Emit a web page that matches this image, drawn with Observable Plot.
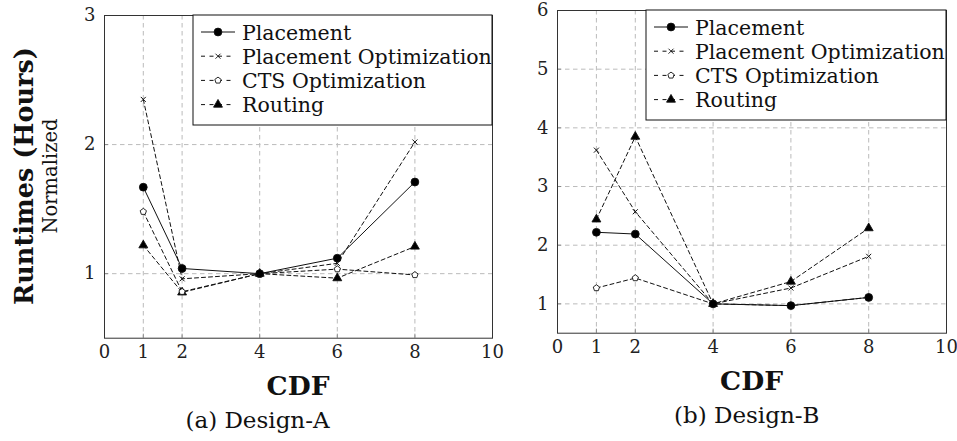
<!DOCTYPE html>
<html><head><meta charset="utf-8">
<script src="https://cdn.jsdelivr.net/npm/d3@7"></script>
<script src="https://cdn.jsdelivr.net/npm/@observablehq/plot@0.6"></script>
<style>
html,body{margin:0;padding:0;background:#fff;}
#wrap{position:relative;width:957px;height:441px;overflow:hidden;background:#fff;}
#wrap svg{position:absolute;top:0;}
#wrap svg text{font-family:"DejaVu Serif","Liberation Serif",serif;}
</style></head><body><div id="wrap"></div>
<script>
// ---- data ----
const cdf = [1, 2, 4, 6, 8];
const seriesNames = ["Placement", "Placement Optimization", "CTS Optimization", "Routing"];
const xTicks = [0, 1, 2, 4, 6, 8, 10];
const yTicksA = [1, 2, 3];
const yTicksB = [1, 2, 3, 4, 5, 6];

const designAPlacement    = [1.67, 1.04, 1.00, 1.12, 1.71];
const designAPlacementOpt = [2.35, 0.96, 1.00, 1.08, 2.02];
const designACTSOpt       = [1.48, 0.86, 1.00, 1.035, 0.99];
const designARouting      = [1.22, 0.855, 1.00, 0.965, 1.21];

const designBPlacement    = [2.22, 2.19, 1.00, 0.97, 1.11];
const designBPlacementOpt = [3.62, 2.57, 1.00, 1.27, 1.81];
const designBCTSOpt       = [1.27, 1.44, 1.00, 0.97, 1.11];
const designBRouting      = [2.44, 3.85, 1.00, 1.38, 2.29];

const xLabel = "CDF";
const yLabel = "Runtimes (Hours)";
const ySubLabel = "Normalized";
const captions = ["(a) Design-A", "(b) Design-B"];

// ---- styles ----
const FONT = "DejaVu Serif";
const pentagon = {
  draw(ctx, size) {
    const r = Math.sqrt(size / Math.PI) * 1.1;
    for (let k = 0; k < 5; k++) {
      const a = -Math.PI / 2 + k * 2 * Math.PI / 5;
      const px = r * Math.cos(a), py = r * Math.sin(a);
      if (k === 0) ctx.moveTo(px, py); else ctx.lineTo(px, py);
    }
    ctx.closePath();
  }
};
const seriesStyles = [
  {dash: null,  symbol: "circle",   fill: "black", r: 3.9, d3sym: d3.symbolCircle},
  {dash: "4,3", symbol: "times",    fill: "none",  r: 2.4, d3sym: d3.symbolTimes},
  {dash: "4,3", symbol: pentagon,   fill: "white", r: 3.0, d3sym: pentagon},
  {dash: "4,3", symbol: "triangle", fill: "black", r: 3.3, d3sym: d3.symbolTriangle}
];

function rowsFor(values, name) {
  return cdf.map((x, i) => ({x, y: values[i], series: name}));
}

function panel(opts) {
  const {series, yDomain, yTicks, width, height, ml, mr, mt, mb} = opts;
  const gridStyle = {stroke: "#bbbbbb", strokeOpacity: 1, strokeDasharray: "4.5,3.5", strokeWidth: 1};
  const marks = [
    Plot.gridX(cdf, gridStyle),
    Plot.gridY(yTicks.filter(t => t < yDomain[1]), gridStyle),
    Plot.axisX(xTicks, {tickSize: -4, tickPadding: 11, stroke: "#8a8a8a", fill: "#222", fontSize: 18, label: null, tickFormat: d => String(d)}),
    Plot.axisY(yTicks, {tickSize: -4, tickPadding: 13, stroke: "#8a8a8a", fill: "#222", fontSize: 18, label: null, tickFormat: d => String(d)})
  ];
  series.forEach((vals, i) => {
    const st = seriesStyles[i];
    const rows = rowsFor(vals, seriesNames[i]);
    marks.push(Plot.line(rows, {x: "x", y: "y", stroke: "#111", strokeWidth: 1, strokeDasharray: st.dash || undefined}));
  });
  // draw markers in reverse so Placement sits on top
  series.map((vals, i) => i).reverse().forEach(i => {
    const st = seriesStyles[i];
    const rows = rowsFor(series[i], seriesNames[i]);
    marks.push(Plot.dot(rows, {x: "x", y: "y", symbol: st.symbol, r: st.r,
      fill: st.fill, stroke: "#111", strokeWidth: st.symbol === "times" ? 1 : 0.9}));
  });
  marks.push(Plot.frame({stroke: "#333", strokeWidth: 1}));
  return Plot.plot({
    width, height,
    marginLeft: ml, marginRight: mr, marginTop: mt, marginBottom: mb,
    x: {domain: [0, 10]},
    y: {domain: yDomain},
    style: {fontFamily: FONT, fontSize: "18px", background: "transparent", overflow: "visible", color: "#111"},
    marks
  });
}

function addLegend(svg, fx, fy, fw) {
  const g = d3.select(svg).append("g");
  const bx = fx + 89, bw = fx + fw - bx, bh = 110;
  g.append("rect").attr("x", bx).attr("y", fy).attr("width", bw).attr("height", bh)
    .attr("fill", "white").attr("stroke", "#111").attr("stroke-width", 1);
  seriesNames.forEach((name, i) => {
    const st = seriesStyles[i];
    const cy = fy + 17 + 24.2 * i;
    g.append("line").attr("x1", bx + 8).attr("x2", bx + 42).attr("y1", cy).attr("y2", cy)
      .attr("stroke", "#111").attr("stroke-width", 1).attr("stroke-dasharray", st.dash ? "4,4.5" : null);
    const r = st.r;
    g.append("path").attr("transform", `translate(${bx + 25},${cy})`)
      .attr("d", d3.symbol(st.d3sym, Math.PI * r * r)())
      .attr("fill", st.fill).attr("stroke", "#111").attr("stroke-width", 0.9);
    g.append("text").attr("x", bx + 49).attr("y", cy + 7.5).text(name)
      .attr("text-anchor", "start")
      .attr("font-family", FONT).attr("font-size", 20.5).attr("fill", "#111");
  });
}

function addText(svg, x, y, text, size, weight, rotate) {
  d3.select(svg).append("text")
    .attr("transform", `translate(${x},${y})` + (rotate ? ` rotate(${rotate})` : ""))
    .attr("text-anchor", "middle").attr("font-family", FONT).attr("font-size", size)
    .attr("font-weight", weight).attr("fill", "#111").text(text);
}

const wrap = document.getElementById("wrap");

// Panel A
const A = {series: [designAPlacement, designAPlacementOpt, designACTSOpt, designARouting],
  yDomain: [0.5, 3], yTicks: yTicksA, width: 500, height: 441, ml: 104, mr: 8, mt: 15, mb: 103.3};
const svgA = panel(A);
svgA.style.left = "0px";
addLegend(svgA, A.ml, A.mt, A.width - A.ml - A.mr);
addText(svgA, 298, 395, xLabel, 26.5, "bold");
addText(svgA, 257.5, 428, captions[0], 23, "normal");
addText(svgA, 33, 176, yLabel, 25.5, "bold", -90);
addText(svgA, 57, 176, ySubLabel, 19.5, "normal", -90);
wrap.appendChild(svgA);

// Panel B
const B = {series: [designBPlacement, designBPlacementOpt, designBCTSOpt, designBRouting],
  yDomain: [0.5, 6], yTicks: yTicksB, width: 457, height: 441, ml: 57, mr: 11, mt: 10, mb: 108.3};
const svgB = panel(B);
svgB.style.left = "500px";
addLegend(svgB, B.ml, B.mt, B.width - B.ml - B.mr);
addText(svgB, 251.5, 390, xLabel, 26.5, "bold");
addText(svgB, 246.7, 423, captions[1], 23, "normal");
wrap.appendChild(svgB);
</script></body></html>
